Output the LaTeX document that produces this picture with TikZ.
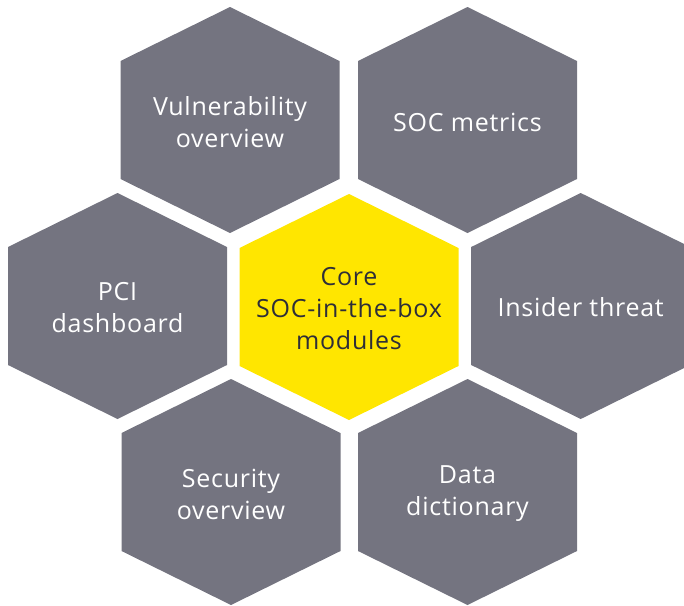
\documentclass[tikz,border=0pt]{standalone}
\usepackage{fontspec}
\setmainfont{Open Sans}[LetterSpace=3]
\definecolor{eygray}{HTML}{747480}
\definecolor{eyyellow}{HTML}{FFE600}
\definecolor{eydark}{HTML}{2E2E38}
\tikzset{
  hextext/.style={align=center, font=\fontsize{25}{32}\selectfont, inner sep=0pt},
}
\begin{document}
\begin{tikzpicture}[x=1pt,y=-1pt]
\useasboundingbox (0,0) rectangle (684,605);
\clip (0,0) rectangle (684,605);
% hexagon bodies
\foreach \cx/\cy/\col in {230/120/eygray, 467.5/120/eygray, 117.5/306/eygray,
  349/307/eyyellow, 580.7/306/eygray, 231/492/eygray, 467.5/492/eygray}{
  \fill[\col] (\cx,\cy-113) -- (\cx+109.5,\cy-59) -- (\cx+109.5,\cy+59) -- (\cx,\cy+113)
     -- (\cx-109.5,\cy+59) -- (\cx-109.5,\cy-59) -- cycle;
}
% labels
\node[hextext,text=white] (vuln) at (230,122) {Vulnerability\\overview};
\node[hextext,text=white] (socm) at (467.5,122) {SOC metrics};
\node[hextext,text=white] (pci) at (117.5,308) {PCI\\dashboard};
\node[hextext,text=eydark] (core) at (349,309) {Core\\SOC-in-the-box\\modules};
\node[hextext,text=white] (insider) at (580.7,307) {Insider threat};
\node[hextext,text=white] (secov) at (231,494) {Security\\overview};
\node[hextext,text=white] (datad) at (467.5,494) {Data\\dictionary};
\end{tikzpicture}
\end{document}
